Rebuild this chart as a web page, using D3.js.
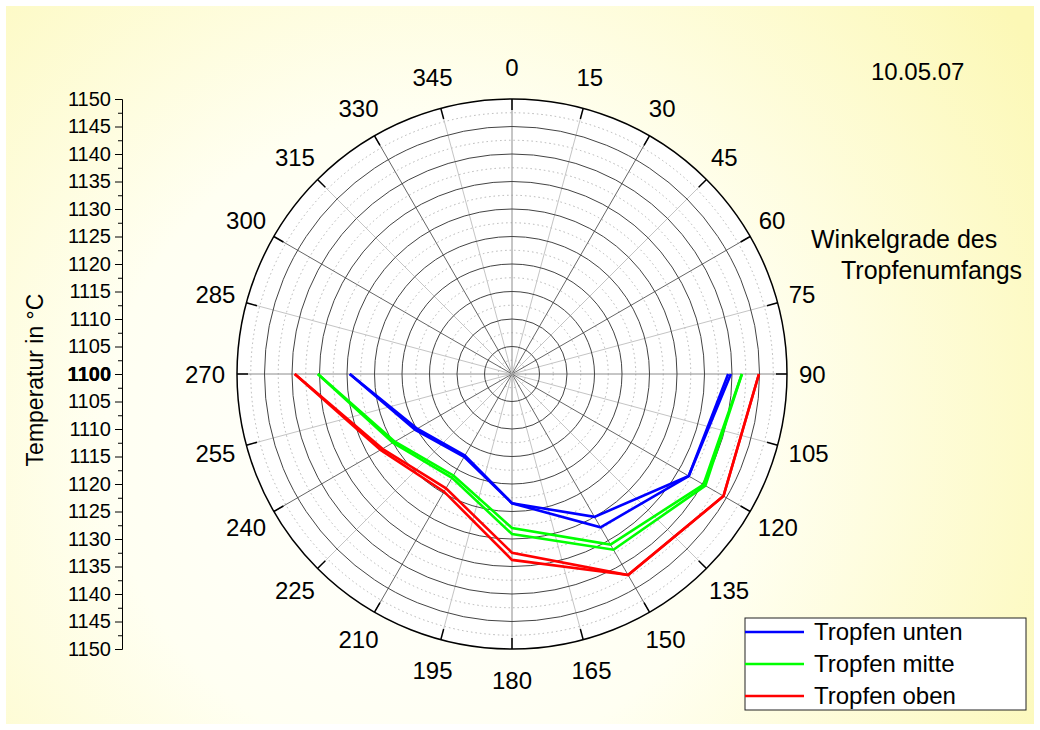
<!DOCTYPE html>
<html>
<head>
<meta charset="utf-8">
<script src="https://cdn.jsdelivr.net/npm/d3@7"></script>
<style>
  body { margin: 0; background: #fff; }
  svg { display: block; font-family: "Liberation Sans", Arial, sans-serif; }
</style>
</head>
<body>
<div id="chart"></div>
<script>
// angles (deg, clockwise from top) where the drop temperature was read
const angles = [90, 120, 150, 180, 210, 240, 270];

// two traces per drop position, °C
const untenA = [1139.3, 1137.1, 1130.0, 1123.5, 1117.1, 1119.9, 1129.5];
const untenB = [1139.8, 1137.1, 1132.2, 1123.5, 1117.4, 1120.3, 1129.5];
const mitteA = [1141.8, 1140.2, 1135.8, 1128.0, 1121.3, 1124.6, 1135.3];
const mitteB = [1141.8, 1140.6, 1136.9, 1129.1, 1121.8, 1125.0, 1135.3];
const obenA  = [1144.9, 1144.4, 1142.2, 1132.5, 1124.0, 1127.2, 1139.5];
const obenB  = [1144.9, 1144.4, 1142.2, 1133.8, 1124.7, 1127.6, 1139.5];

const seriesNames = ['Tropfen unten', 'Tropfen mitte', 'Tropfen oben'];
const seriesColors = ['#0000ff', '#00ff00', '#ff0000'];
const seriesTraces = [[untenA, untenB], [mitteA, mitteB], [obenA, obenB]];

const angleTicks = d3.range(0, 360, 15);
const tempTicks = d3.range(1100, 1151, 5);
const tempMinor = d3.range(1102.5, 1150, 5);

const W = 1040, H = 730;
const cx = 512, cy = 374, R = 275;

const svg = d3.select('#chart').append('svg')
    .attr('width', W).attr('height', H);

// background panel
const defs = svg.append('defs');
const grad = defs.append('radialGradient')
    .attr('id', 'bg')
    .attr('gradientUnits', 'userSpaceOnUse')
    .attr('cx', 430).attr('cy', 440).attr('r', 720);
grad.append('stop').attr('offset', '0%').attr('stop-color', '#ffffff');
grad.append('stop').attr('offset', '45%').attr('stop-color', '#fffff2');
grad.append('stop').attr('offset', '100%').attr('stop-color', '#fcf8b6');

svg.append('rect').attr('width', W).attr('height', H).attr('fill', '#ffffff');
svg.append('rect')
    .attr('x', 6).attr('y', 6).attr('width', W - 12).attr('height', H - 12)
    .attr('fill', 'url(#bg)');

const r = d3.scaleLinear().domain([1100, 1150]).range([0, R]);
const rad = d => d * Math.PI / 180;

const polar = svg.append('g').attr('transform', `translate(${cx},${cy})`);

// plot disk
polar.append('circle').attr('r', R).attr('fill', '#ffffff');

// dotted minor rings
polar.selectAll('.minor-ring').data(tempMinor).enter()
    .append('circle')
    .attr('class', 'minor-ring')
    .attr('r', d => r(d))
    .attr('fill', 'none')
    .attr('stroke', '#b4b4b4')
    .attr('stroke-width', 1)
    .attr('stroke-dasharray', '1.5,3');

// radial spokes
polar.selectAll('.spoke').data(angleTicks).enter()
    .append('line')
    .attr('class', 'spoke')
    .attr('x1', 0).attr('y1', 0)
    .attr('x2', d => R * Math.sin(rad(d)))
    .attr('y2', d => -R * Math.cos(rad(d)))
    .attr('stroke', d => d % 90 === 0 ? '#8c8c8c' : (d % 30 === 0 ? '#666666' : '#c4c4c4'))
    .attr('stroke-width', 1);

// solid rings
polar.selectAll('.ring').data(tempTicks.filter(t => t > 1100 && t < 1150)).enter()
    .append('circle')
    .attr('class', 'ring')
    .attr('r', d => r(d))
    .attr('fill', 'none')
    .attr('stroke', '#444444')
    .attr('stroke-width', 1);

// outer ring + inward ticks
polar.append('circle').attr('r', R)
    .attr('fill', 'none').attr('stroke', '#000').attr('stroke-width', 1.5);
polar.selectAll('.aTick').data(angleTicks).enter()
    .append('line')
    .attr('x1', d => (R - 11) * Math.sin(rad(d)))
    .attr('y1', d => -(R - 11) * Math.cos(rad(d)))
    .attr('x2', d => R * Math.sin(rad(d)))
    .attr('y2', d => -R * Math.cos(rad(d)))
    .attr('stroke', '#000').attr('stroke-width', 1.5);

// angle labels, box placed around the ring
const capH = 17;
angleTicks.forEach(a => {
    const s = Math.sin(rad(a)), c = Math.cos(rad(a));
    const px = (R + 12) * s, py = -(R + 23) * c;
    const t = polar.append('text')
        .attr('font-size', '24px')
        .attr('fill', '#000')
        .text(a);
    const w = t.node().getComputedTextLength();
    t.attr('x', px - w * (1 - s) / 2)
     .attr('y', py + capH * (1 - c) / 2);
});

// data traces
const line = d3.lineRadial()
    .angle(d => rad(d[0]))
    .radius(d => r(d[1]));

seriesTraces.forEach((traces, i) => {
    traces.forEach(vals => {
        polar.append('path')
            .datum(angles.map((a, k) => [a, vals[k]]))
            .attr('d', line)
            .attr('fill', 'none')
            .attr('stroke', seriesColors[i])
            .attr('stroke-width', 2.6)
            .attr('stroke-linejoin', 'miter');
    });
});

// mirrored temperature axis on the left
const axX = 122;
const yUp = d3.scaleLinear().domain([1100, 1150]).range([cy, cy - R]);
const yDown = d3.scaleLinear().domain([1100, 1150]).range([cy, cy + R]);

[yUp, yDown].forEach(sc => {
    const gMinor = svg.append('g').attr('transform', `translate(${axX},0)`)
        .call(d3.axisLeft(sc).tickValues(tempMinor).tickSize(4).tickSizeOuter(0).tickFormat(''));
    gMinor.select('.domain').attr('stroke', '#000');
    const g = svg.append('g').attr('transform', `translate(${axX},0)`)
        .call(d3.axisLeft(sc).tickValues(tempTicks).tickSize(7).tickSizeOuter(0).tickPadding(4).tickFormat(d3.format('d')));
    g.selectAll('text')
        .attr('font-size', '20px')
        .attr('font-family', '"Liberation Sans", Arial, sans-serif')
        .attr('fill', '#000')
        .attr('font-weight', d => d === 1100 ? 'bold' : 'normal');
    g.selectAll('line').attr('stroke', '#000');
    g.select('.domain').attr('stroke', '#000');
});

svg.append('text')
    .attr('transform', `translate(43,${cy + 6}) rotate(-90)`)
    .attr('text-anchor', 'middle')
    .attr('font-size', '23px')
    .text('Temperatur in °C');

// annotations
svg.append('text').attr('x', 871).attr('y', 80).attr('font-size', '24px').text('10.05.07');
svg.append('text').attr('x', 811).attr('y', 248).attr('font-size', '25px').text('Winkelgrade des');
svg.append('text').attr('x', 841).attr('y', 279).attr('font-size', '25px').text('Tropfenumfangs');

// legend
const leg = svg.append('g').attr('transform', 'translate(745,618)');
leg.append('rect')
    .attr('width', 281).attr('height', 92)
    .attr('fill', '#ffffff').attr('stroke', '#222').attr('stroke-width', 1);
seriesNames.forEach((name, i) => {
    const y = 14 + i * 32;
    leg.append('line')
        .attr('x1', 0).attr('x2', 59).attr('y1', y).attr('y2', y)
        .attr('stroke', seriesColors[i]).attr('stroke-width', 2.6);
    leg.append('text')
        .attr('x', 69).attr('y', y + 8)
        .attr('font-size', '24px')
        .text(name);
});
</script>
</body>
</html>
